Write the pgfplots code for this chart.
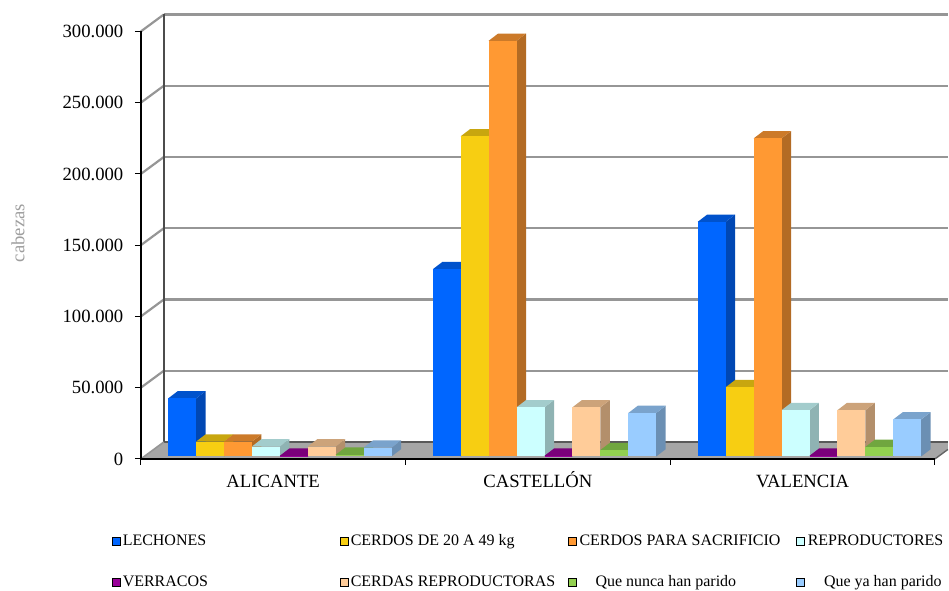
\documentclass[border=0pt]{standalone}
\usepackage{fontspec}
\setmainfont{Liberation Serif}
\usepackage{pgfplots}
\pgfplotsset{compat=1.18}

\definecolor{wall}{HTML}{969696}
\definecolor{floorc}{HTML}{A6A6A6}
% front, side, top of each series
\definecolor{f1}{HTML}{0066FF}\definecolor{s1}{HTML}{0047B3}\definecolor{t1}{HTML}{0052CC}
\definecolor{f2}{HTML}{F7CE12}\definecolor{s2}{HTML}{AD900D}\definecolor{t2}{HTML}{C8A60F}
\definecolor{f3}{HTML}{FF9933}\definecolor{s3}{HTML}{B36B24}\definecolor{t3}{HTML}{CC7A29}
\definecolor{f4}{HTML}{CCFFFF}\definecolor{s4}{HTML}{8FB3B3}\definecolor{t4}{HTML}{A3CCCC}
\definecolor{f5}{HTML}{990099}\definecolor{s5}{HTML}{6B006B}\definecolor{t5}{HTML}{7A007A}
\definecolor{f6}{HTML}{FFCC99}\definecolor{s6}{HTML}{B38F6B}\definecolor{t6}{HTML}{CCA37A}
\definecolor{f7}{HTML}{92D050}\definecolor{s7}{HTML}{669238}\definecolor{t7}{HTML}{70A63F}
\definecolor{f8}{HTML}{99CCFF}\definecolor{s8}{HTML}{6B8FB3}\definecolor{t8}{HTML}{7AA3CC}

% #1 group start, #2 slot, #3 value in thousands, #4 series
\newcommand{\cubar}[4]{%
  \pgfmathsetmacro{\xa}{#1+27.96*#2}%
  \pgfmathsetmacro{\xb}{\xa+27.96}%
  \pgfmathsetmacro{\xc}{\xb+9.5}%
  \pgfmathsetmacro{\xd}{\xa+9.5}%
  \pgfmathsetmacro{\ya}{1.75}%
  \pgfmathsetmacro{\yb}{1.75+#3}%
  \pgfmathsetmacro{\yc}{\ya+5.1}%
  \pgfmathsetmacro{\yd}{\yb+5.1}%
  \edef\temp{%
    \noexpand\addplot[fill=s#4,draw=none] coordinates {(\xb,\ya) (\xc,\yc) (\xc,\yd) (\xb,\yb)} --cycle;
    \noexpand\addplot[fill=t#4,draw=none] coordinates {(\xa,\yb) (\xd,\yd) (\xc,\yd) (\xb,\yb)} --cycle;
    \noexpand\addplot[fill=f#4,draw=none] coordinates {(\xa,\ya) (\xb,\ya) (\xb,\yb) (\xa,\yb)} --cycle;
  }\temp
}
% #1 value: back wall line and its diagonal on the side wall
\newcommand{\wallline}[1]{%
  \pgfmathsetmacro{\yw}{#1+11.9}%
  \edef\temp{%
    \noexpand\addplot[wall,line width=2.2pt] coordinates {(164,\yw) (949,\yw)};
    \noexpand\addplot[wall,line width=2.2pt] coordinates {(141,#1) (164,\yw)};
  }\temp
}
% #1 x of square, #2 square y, #3 text baseline y, #4 x of text, #5 series, #6 text
\newcommand{\legitem}[6]{%
  \addplot[only marks,mark=square*,mark size=4pt,mark options={fill=f#5,draw=none}] coordinates {(#1,#2)};
  \node[anchor=base west,inner sep=0pt,font=\fontsize{16}{16}\selectfont] at (axis cs:#4,#3) {#6};
}

\begin{document}
\begin{tikzpicture}
\begin{axis}[
    scale only axis,
    width=795pt, height=428pt,
    xmin=141, xmax=936,
    ymin=0, ymax=300,
    clip=false,
    axis on top,
    axis x line*=bottom,
    axis y line*=left,
    axis line style={black,line width=1.6pt,-},
    tick align=outside,
    xtick={273.5,538.5,803.5},
    xticklabels={ALICANTE,CASTELLÓN,VALENCIA},
    minor xtick={141,406,671,936},
    major tick length=6pt,
    minor tick length=6pt,
    x tick style={draw=none},
    minor x tick style={draw=black,line width=1pt},
    y tick style={black,line width=1pt},
    xticklabel style={font=\fontsize{18.7}{19}\selectfont,yshift=-5pt,text height=14pt,text depth=0pt},
    ytick={0,50,100,150,200,250,300},
    yticklabels={0,{50.000},{100.000},{150.000},{200.000},{250.000},{300.000}},
    yticklabel style={font=\fontsize{18.7}{19}\selectfont,xshift=-8pt},
    ylabel={cabezas},
    every axis y label/.style={at={(axis cs:18,158.5)},rotate=90,anchor=center,
      text=black!38,font=\fontsize{18.7}{19}\selectfont},
]
\path (axis cs:0,-90.77) rectangle (axis cs:949,322.08);

% floor and walls
\addplot[fill=floorc,draw=none] coordinates {(141,0) (164,11.9) (949,11.9) (949,6.7) (936,0)} --cycle;
\wallline{50}
\wallline{100}
\wallline{150}
\wallline{200}
\wallline{250}
\wallline{300}
\addplot[black!65,line width=1.6pt] coordinates {(164,11.9) (949,11.9)};
\addplot[black!70,line width=1.6pt] coordinates {(164,11.9) (164,312)};
\addplot[wall,line width=1.6pt] coordinates {(141,0) (164,11.9)};
\addplot[black!60,line width=1.4pt] coordinates {(936,0) (949,6.7)};

% ALICANTE
\cubar{168.3}{0}{40.7}{1}
\cubar{168.3}{1}{10.4}{2}
\cubar{168.3}{2}{10.4}{3}
\cubar{168.3}{3}{7}{4}
\cubar{168.3}{4}{0.5}{5}
\cubar{168.3}{5}{7}{6}
\cubar{168.3}{6}{1.2}{7}
\cubar{168.3}{7}{6.2}{8}
% CASTELLON
\cubar{433.3}{0}{131.4}{1}
\cubar{433.3}{1}{224.7}{2}
\cubar{433.3}{2}{291.7}{3}
\cubar{433.3}{3}{34.5}{4}
\cubar{433.3}{4}{0.5}{5}
\cubar{433.3}{5}{34.5}{6}
\cubar{433.3}{6}{4.5}{7}
\cubar{433.3}{7}{30.5}{8}
% VALENCIA
\cubar{698.6}{0}{164.7}{1}
\cubar{698.6}{1}{48.6}{2}
\cubar{698.6}{2}{223.2}{3}
\cubar{698.6}{3}{32.5}{4}
\cubar{698.6}{4}{0.5}{5}
\cubar{698.6}{5}{32.5}{6}
\cubar{698.6}{6}{6.7}{7}
\cubar{698.6}{7}{26}{8}

% legend
\legitem{116.3}{-57.5}{-61}{122.7}{1}{LECHONES}
\legitem{344.3}{-57.5}{-61}{351}{2}{CERDOS DE 20 A 49 kg}
\legitem{573.3}{-57.5}{-61}{580}{3}{CERDOS PARA SACRIFICIO}
\legitem{801.3}{-57.5}{-61}{808.5}{4}{REPRODUCTORES}
\legitem{116.3}{-86.2}{-89.7}{122.7}{5}{VERRACOS}
\legitem{344.3}{-86.2}{-89.7}{351}{6}{CERDAS REPRODUCTORAS}
\legitem{573.3}{-86.2}{-89.7}{596}{7}{Que nunca han parido}
\legitem{801.3}{-86.2}{-89.7}{824.8}{8}{Que ya han parido}
\end{axis}
\end{tikzpicture}
\end{document}
